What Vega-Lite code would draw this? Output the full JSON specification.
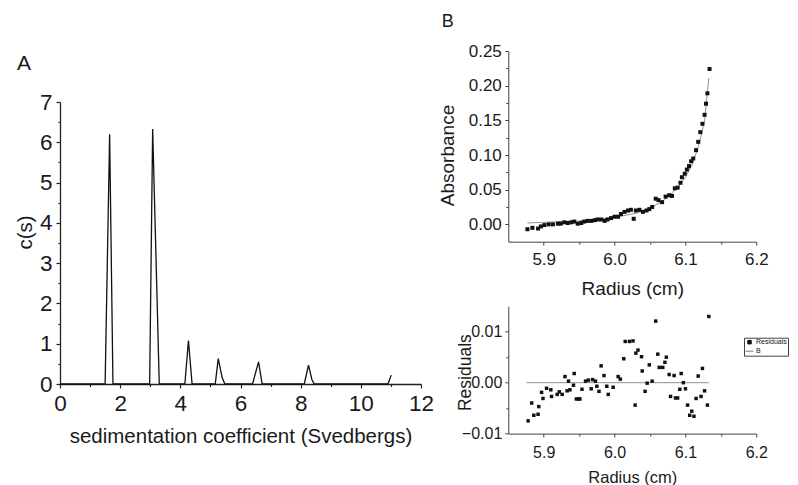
{
  "$schema": "https://vega.github.io/schema/vega-lite/v6.json",
  "background": "white",
  "padding": {"left": 15, "top": 12, "right": 0, "bottom": 0},
  "config": {
    "font": "Liberation Sans",
    "view": {"stroke": null},
    "axis": {
      "grid": false,
      "domainColor": "#222",
      "tickColor": "#222",
      "labelColor": "#1a1a1a",
      "titleColor": "#1a1a1a",
      "titleFontWeight": "normal",
      "labelFlush": false,
      "labelOverlap": false
    }
  },
  "bounds": "flush",
  "spacing": 448.3,
  "hconcat": [
    {
      "bounds": "flush",
      "spacing": 0,
      "vconcat": [
        {
          "width": 361,
          "height": 51,
          "data": {"values": [{}]},
          "mark": {"type": "text", "text": ""},
          "encoding": {}
        },
        {
          "width": 361,
          "height": 282,
          "title": {"text": "A", "anchor": "start", "frame": "group", "dx": -43, "offset": 0, "fontSize": 21, "fontWeight": "normal", "baseline": "alphabetic", "color": "#1a1a1a"},
          "data": {
            "values": [
              {"s": 0, "c": 0}, {"s": 1.5, "c": 0}, {"s": 1.65, "c": 6.2}, {"s": 1.76, "c": 0},
              {"s": 2.98, "c": 0}, {"s": 3.08, "c": 6.33}, {"s": 3.3, "c": 0},
              {"s": 4.15, "c": 0}, {"s": 4.27, "c": 1.08}, {"s": 4.39, "c": 0},
              {"s": 5.16, "c": 0}, {"s": 5.26, "c": 0.63}, {"s": 5.39, "c": 0.16}, {"s": 5.48, "c": 0},
              {"s": 6.4, "c": 0}, {"s": 6.6, "c": 0.55}, {"s": 6.72, "c": 0},
              {"s": 8.12, "c": 0}, {"s": 8.26, "c": 0.47}, {"s": 8.37, "c": 0.12}, {"s": 8.45, "c": 0},
              {"s": 10.9, "c": 0}, {"s": 11.01, "c": 0.22}
            ]
          },
          "mark": {"type": "line", "color": "#111", "strokeWidth": 1.3},
          "encoding": {
            "x": {
              "field": "s", "type": "quantitative",
              "scale": {"domain": [0, 12], "nice": false, "zero": false},
              "axis": {
                "title": "sedimentation coefficient (Svedbergs)",
                "values": [0, 1, 2, 3, 4, 5, 6, 7, 8, 9, 10, 11, 12],
                "labelExpr": "datum.value % 2 === 0 ? format(datum.value, 'd') : ''",
                "labelOverlap": false,
                "tickSize": {"condition": {"test": "datum.value % 2 === 1", "value": 2.5}, "value": 4},
                "labelPadding": 4.5,
                "labelFontSize": 22.5,
                "titleFontSize": 20.5,
                "titleBaseline": "alphabetic",
                "titleY": 58.5,
                "domainWidth": 1.3,
                "tickWidth": 1.2
              }
            },
            "y": {
              "field": "c", "type": "quantitative",
              "scale": {"domain": [0, 7], "nice": false},
              "axis": {
                "title": "c(s)",
                "values": [0, 0.5, 1, 1.5, 2, 2.5, 3, 3.5, 4, 4.5, 5, 5.5, 6, 6.5, 7],
                "labelExpr": "datum.value % 1 === 0 ? format(datum.value, 'd') : ''",
                "labelOverlap": false,
                "tickSize": {"condition": {"test": "datum.value % 1 !== 0", "value": 2}, "value": 4},
                "labelPadding": 4,
                "labelFontSize": 22.5,
                "titleFontSize": 20.5,
                "titleBaseline": "alphabetic",
                "titleX": -28.8,
                "titleY": 130,
                "domainWidth": 1.3,
                "tickWidth": 1.2
              }
            }
          }
        }
      ]
    },
    {
      "bounds": "flush",
      "spacing": 64.3,
      "vconcat": [
        {
          "width": 248,
          "height": 190.7,
          "title": {"text": "B", "anchor": "start", "frame": "group", "dx": -66.6, "offset": -2.5, "fontSize": 18, "fontWeight": "normal", "baseline": "alphabetic", "color": "#1a1a1a"},
          "encoding": {
            "x": {
              "field": "r", "type": "quantitative",
              "scale": {"domain": [5.85, 6.2], "nice": false, "zero": false},
              "axis": {
                "title": "Radius (cm)",
                "values": [5.9, 5.95, 6.0, 6.05, 6.1, 6.15, 6.2],
                "labelExpr": "round(datum.value * 100) % 10 === 0 ? format(datum.value, '.1f') : ''",
                "labelOverlap": false,
                "tickSize": {"condition": {"test": "round(datum.value * 100) % 10 !== 0", "value": 2.5}, "value": 3.5},
                "labelPadding": 6,
                "labelFontSize": 17,
                "titleFontSize": 19,
                "titleBaseline": "alphabetic",
                "titleY": 52.6,
                "domainColor": "#444",
                "tickColor": "#444"
              }
            },
            "y": {
              "field": "a", "type": "quantitative",
              "scale": {"domain": [-0.025, 0.25], "nice": false, "zero": false},
              "axis": {
                "title": "Absorbance",
                "values": [0, 0.025, 0.05, 0.075, 0.1, 0.125, 0.15, 0.175, 0.2, 0.225, 0.25],
                "labelExpr": "round(datum.value * 1000) % 50 === 0 ? format(datum.value, '.2f') : ''",
                "labelOverlap": false,
                "tickSize": {"condition": {"test": "round(datum.value * 1000) % 50 !== 0", "value": 2.5}, "value": 3.5},
                "labelPadding": 3.5,
                "labelFontSize": 17,
                "titleFontSize": 19,
                "titleBaseline": "alphabetic",
                "titleX": -54.5,
                "titleY": 104,
                "domainColor": "#444",
                "tickColor": "#444"
              }
            }
          },
          "layer": [
            {
              "data": {
                "values": [
                  {"r": 5.877, "a": 0.002}, {"r": 5.9, "a": 0.003}, {"r": 5.95, "a": 0.005}, {"r": 6.0, "a": 0.01},
                  {"r": 6.03, "a": 0.016}, {"r": 6.05, "a": 0.023}, {"r": 6.07, "a": 0.035}, {"r": 6.09, "a": 0.054},
                  {"r": 6.1, "a": 0.068}, {"r": 6.11, "a": 0.087}, {"r": 6.12, "a": 0.118}, {"r": 6.127, "a": 0.15},
                  {"r": 6.133, "a": 0.211}
                ]
              },
              "mark": {"type": "line", "color": "#777", "strokeWidth": 0.8}
            },
            {
              "data": {
                "values": [
                  {"r": 5.877, "a": -0.007}, {"r": 5.884, "a": -0.005}, {"r": 5.892, "a": -0.006}, {"r": 5.896, "a": -0.003},
                  {"r": 5.901, "a": -0.001}, {"r": 5.907, "a": 0.0}, {"r": 5.913, "a": 0.0}, {"r": 5.92, "a": 0.001},
                  {"r": 5.924, "a": 0.001}, {"r": 5.929, "a": 0.003}, {"r": 5.934, "a": 0.002}, {"r": 5.939, "a": 0.003},
                  {"r": 5.943, "a": 0.004}, {"r": 5.948, "a": 0.001}, {"r": 5.953, "a": 0.002}, {"r": 5.957, "a": 0.004},
                  {"r": 5.962, "a": 0.005}, {"r": 5.967, "a": 0.005}, {"r": 5.972, "a": 0.006}, {"r": 5.976, "a": 0.007},
                  {"r": 5.981, "a": 0.007}, {"r": 5.986, "a": 0.005}, {"r": 5.99, "a": 0.007}, {"r": 5.995, "a": 0.009},
                  {"r": 6.0, "a": 0.011}, {"r": 6.005, "a": 0.011}, {"r": 6.009, "a": 0.015}, {"r": 6.014, "a": 0.018},
                  {"r": 6.019, "a": 0.02}, {"r": 6.023, "a": 0.021}, {"r": 6.027, "a": 0.008}, {"r": 6.03, "a": 0.02},
                  {"r": 6.035, "a": 0.021}, {"r": 6.04, "a": 0.018}, {"r": 6.045, "a": 0.02}, {"r": 6.049, "a": 0.022},
                  {"r": 6.053, "a": 0.025}, {"r": 6.058, "a": 0.037}, {"r": 6.062, "a": 0.035}, {"r": 6.067, "a": 0.032},
                  {"r": 6.072, "a": 0.04}, {"r": 6.077, "a": 0.042}, {"r": 6.081, "a": 0.041}, {"r": 6.085, "a": 0.052},
                  {"r": 6.089, "a": 0.053}, {"r": 6.093, "a": 0.06}, {"r": 6.095, "a": 0.068}, {"r": 6.099, "a": 0.073},
                  {"r": 6.102, "a": 0.079}, {"r": 6.105, "a": 0.084}, {"r": 6.108, "a": 0.091}, {"r": 6.111, "a": 0.095},
                  {"r": 6.115, "a": 0.107}, {"r": 6.118, "a": 0.119}, {"r": 6.121, "a": 0.133}, {"r": 6.124, "a": 0.145},
                  {"r": 6.127, "a": 0.158}, {"r": 6.129, "a": 0.174}, {"r": 6.131, "a": 0.189}, {"r": 6.134, "a": 0.224}
                ]
              },
              "mark": {"type": "point", "shape": "square", "filled": true, "color": "#111", "size": 16, "opacity": 1}
            }
          ]
        },
        {
          "width": 248,
          "height": 127.3,
          "encoding": {
            "x": {
              "field": "r", "type": "quantitative",
              "scale": {"domain": [5.85, 6.2], "nice": false, "zero": false},
              "axis": {
                "title": "Radius (cm)",
                "values": [5.9, 5.95, 6.0, 6.05, 6.1, 6.15, 6.2],
                "labelExpr": "round(datum.value * 100) % 10 === 0 ? format(datum.value, '.1f') : ''",
                "labelOverlap": false,
                "tickSize": {"condition": {"test": "round(datum.value * 100) % 10 !== 0", "value": 2.5}, "value": 3.5},
                "labelPadding": 7.5,
                "labelFontSize": 16,
                "titleFontSize": 16.5,
                "titleBaseline": "alphabetic",
                "titleY": 49,
                "domainColor": "#444",
                "tickColor": "#444"
              }
            },
            "y": {
              "field": "v", "type": "quantitative",
              "scale": {"domain": [-0.01, 0.015], "nice": false, "zero": false},
              "axis": {
                "title": "Residuals",
                "values": [-0.01, -0.005, 0, 0.005, 0.01],
                "labelExpr": "round(datum.value * 1000) % 10 === 0 ? format(datum.value, '.2f') : ''",
                "labelOverlap": false,
                "tickSize": {"condition": {"test": "round(datum.value * 1000) % 10 !== 0", "value": 2.5}, "value": 3.5},
                "labelPadding": 3,
                "labelFontSize": 16,
                "titleFontSize": 17.5,
                "titleBaseline": "alphabetic",
                "titleX": -37.8,
                "titleY": 65.8,
                "domainColor": "#444",
                "tickColor": "#444"
              }
            }
          },
          "layer": [
            {
              "data": {"values": [{"r": 5.876, "v": 0, "series": "B"}, {"r": 6.133, "v": 0, "series": "B"}]},
              "mark": {"type": "line", "strokeWidth": 0.8},
              "encoding": {
                "color": {"field": "series", "type": "nominal"}
              }
            },
            {
              "data": {
                "values": [
                  {"r": 5.878, "v": -0.0075, "series": "Residuals"}, {"r": 5.883, "v": -0.004, "series": "Residuals"},
                  {"r": 5.886, "v": -0.0064, "series": "Residuals"}, {"r": 5.892, "v": -0.0062, "series": "Residuals"},
                  {"r": 5.893, "v": -0.0047, "series": "Residuals"}, {"r": 5.897, "v": -0.0019, "series": "Residuals"},
                  {"r": 5.899, "v": -0.0031, "series": "Residuals"}, {"r": 5.904, "v": -0.0011, "series": "Residuals"},
                  {"r": 5.91, "v": -0.0014, "series": "Residuals"}, {"r": 5.911, "v": -0.0027, "series": "Residuals"},
                  {"r": 5.919, "v": -0.0023, "series": "Residuals"}, {"r": 5.922, "v": -0.0018, "series": "Residuals"},
                  {"r": 5.926, "v": -0.0023, "series": "Residuals"}, {"r": 5.93, "v": 0.0012, "series": "Residuals"},
                  {"r": 5.933, "v": -0.0016, "series": "Residuals"}, {"r": 5.935, "v": 0.0003, "series": "Residuals"},
                  {"r": 5.937, "v": -0.0014, "series": "Residuals"}, {"r": 5.942, "v": -0.0005, "series": "Residuals"},
                  {"r": 5.943, "v": 0.0018, "series": "Residuals"}, {"r": 5.946, "v": -0.0032, "series": "Residuals"},
                  {"r": 5.949, "v": -0.0032, "series": "Residuals"}, {"r": 5.951, "v": -0.0032, "series": "Residuals"},
                  {"r": 5.954, "v": -0.0013, "series": "Residuals"}, {"r": 5.959, "v": 0.0003, "series": "Residuals"},
                  {"r": 5.963, "v": 0.0005, "series": "Residuals"}, {"r": 5.967, "v": -0.0012, "series": "Residuals"},
                  {"r": 5.969, "v": 0.0006, "series": "Residuals"}, {"r": 5.973, "v": 0.0003, "series": "Residuals"},
                  {"r": 5.975, "v": -0.0007, "series": "Residuals"}, {"r": 5.978, "v": -0.0017, "series": "Residuals"},
                  {"r": 5.981, "v": 0.0033, "series": "Residuals"}, {"r": 5.985, "v": 0.0014, "series": "Residuals"},
                  {"r": 5.989, "v": -0.0007, "series": "Residuals"}, {"r": 5.991, "v": -0.0023, "series": "Residuals"},
                  {"r": 5.998, "v": -0.0009, "series": "Residuals"}, {"r": 6.005, "v": 0.0012, "series": "Residuals"},
                  {"r": 6.008, "v": 0.0007, "series": "Residuals"}, {"r": 6.013, "v": 0.0047, "series": "Residuals"},
                  {"r": 6.015, "v": 0.0081, "series": "Residuals"}, {"r": 6.021, "v": 0.0081, "series": "Residuals"},
                  {"r": 6.026, "v": 0.0082, "series": "Residuals"}, {"r": 6.029, "v": -0.0044, "series": "Residuals"},
                  {"r": 6.03, "v": 0.0058, "series": "Residuals"}, {"r": 6.033, "v": 0.0064, "series": "Residuals"},
                  {"r": 6.038, "v": 0.0051, "series": "Residuals"}, {"r": 6.039, "v": 0.0023, "series": "Residuals"},
                  {"r": 6.043, "v": -0.0017, "series": "Residuals"}, {"r": 6.046, "v": -0.0001, "series": "Residuals"},
                  {"r": 6.049, "v": 0.0035, "series": "Residuals"}, {"r": 6.053, "v": 0.0003, "series": "Residuals"},
                  {"r": 6.058, "v": 0.0121, "series": "Residuals"}, {"r": 6.061, "v": 0.0056, "series": "Residuals"},
                  {"r": 6.063, "v": 0.003, "series": "Residuals"}, {"r": 6.068, "v": 0.003, "series": "Residuals"},
                  {"r": 6.071, "v": 0.004, "series": "Residuals"}, {"r": 6.073, "v": 0.005, "series": "Residuals"},
                  {"r": 6.077, "v": 0.0016, "series": "Residuals"}, {"r": 6.079, "v": -0.0027, "series": "Residuals"},
                  {"r": 6.084, "v": 0.0014, "series": "Residuals"}, {"r": 6.086, "v": -0.003, "series": "Residuals"},
                  {"r": 6.089, "v": -0.003, "series": "Residuals"}, {"r": 6.092, "v": -0.0013, "series": "Residuals"},
                  {"r": 6.094, "v": 0.0018, "series": "Residuals"}, {"r": 6.097, "v": 0.0, "series": "Residuals"},
                  {"r": 6.1, "v": -0.0012, "series": "Residuals"}, {"r": 6.103, "v": -0.0044, "series": "Residuals"},
                  {"r": 6.106, "v": -0.0064, "series": "Residuals"}, {"r": 6.109, "v": -0.0056, "series": "Residuals"},
                  {"r": 6.112, "v": -0.0066, "series": "Residuals"}, {"r": 6.115, "v": -0.0031, "series": "Residuals"},
                  {"r": 6.118, "v": 0.0013, "series": "Residuals"}, {"r": 6.122, "v": -0.0027, "series": "Residuals"},
                  {"r": 6.124, "v": 0.0028, "series": "Residuals"}, {"r": 6.127, "v": -0.0016, "series": "Residuals"},
                  {"r": 6.131, "v": -0.0044, "series": "Residuals"}, {"r": 6.133, "v": 0.013, "series": "Residuals"}
                ]
              },
              "mark": {"type": "point", "filled": true, "opacity": 1},
              "encoding": {
                "color": {
                  "field": "series", "type": "nominal",
                  "scale": {"domain": ["Residuals", "B"], "range": ["#111", "#777"]},
                  "legend": {
                    "orient": "none", "legendX": 684, "legendY": 286.7, "title": null,
                    "strokeColor": "#444", "fillColor": "white", "padding": 1,
                    "labelFontSize": 7, "labelColor": "#111", "labelOffset": 2, "rowPadding": 0,
                    "symbolStrokeWidth": 1,
                    "encode": {
                      "symbols": {
                        "update": {
                          "stroke": {"signal": "datum.value === 'B' ? '#777' : '#111'"},
                          "strokeWidth": {"value": 1}
                        }
                      }
                    }
                  }
                },
                "shape": {
                  "field": "series", "type": "nominal",
                  "scale": {"domain": ["Residuals", "B"], "range": ["square", "stroke"]}
                },
                "size": {
                  "field": "series", "type": "nominal",
                  "scale": {"domain": ["Residuals", "B"], "range": [12, 64]}
                }
              }
            }
          ]
        }
      ]
    }
  ]
}
